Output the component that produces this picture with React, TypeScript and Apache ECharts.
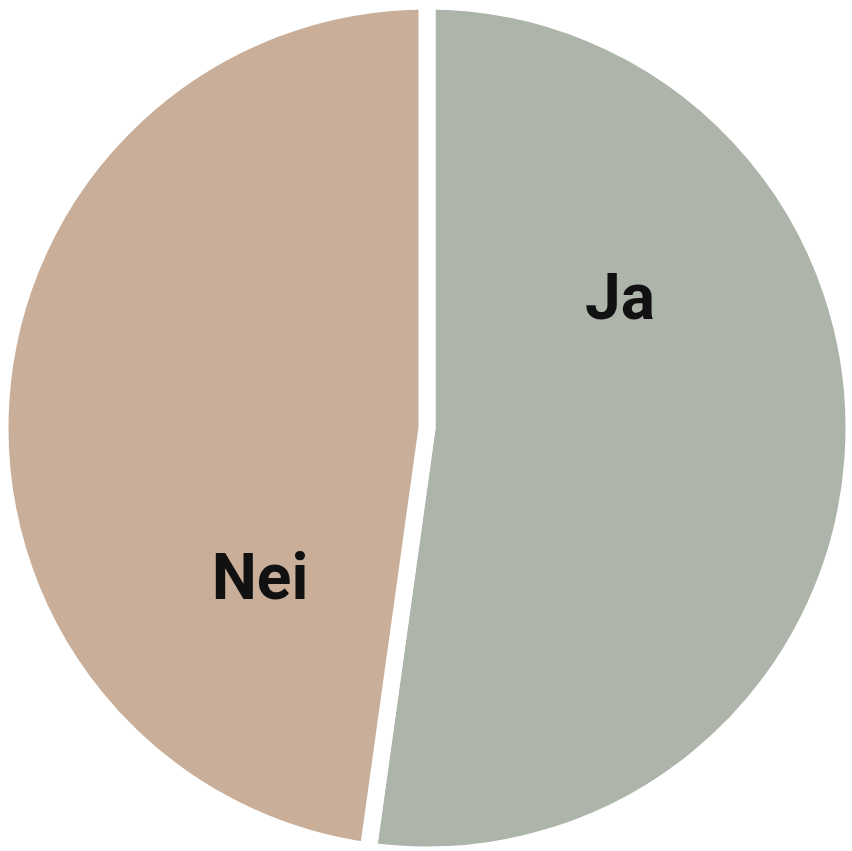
import React, { useEffect, useRef } from "react";
import * as echarts from "echarts";

const categories = ["Ja", "Nei"];
const values = [52.2, 47.8];
const colors = ["#adb5aa", "#c9af99"];

export default function App() {
  const ref = useRef<HTMLDivElement>(null);
  useEffect(() => {
    document.body.style.margin = "0";
    if (!ref.current) return;
    const chart = echarts.init(ref.current, null, { renderer: "svg" });
    const labelStyle = {
      fontFamily: "Roboto",
      fontWeight: "bold",
      fontSize: 64,
      fill: "#111111",
      align: "center",
      verticalAlign: "middle",
    };
    chart.setOption({
      animation: false,
      backgroundColor: "#ffffff",
      series: [
        {
          type: "pie",
          center: [427, 428],
          radius: [0, 427],
          startAngle: 90,
          clockwise: true,
          label: { show: false },
          labelLine: { show: false },
          emphasis: { disabled: true },
          itemStyle: { borderColor: "#ffffff", borderWidth: 17 },
          data: categories.map((name, i) => ({
            name,
            value: values[i],
            itemStyle: { color: colors[i] },
          })),
        },
      ],
      graphic: [
        {
          type: "text",
          z: 100,
          x: 620,
          y: 297,
          style: { ...labelStyle, text: categories[0] },
        },
        {
          type: "text",
          z: 100,
          x: 260,
          y: 577,
          style: { ...labelStyle, text: categories[1] },
        },
      ],
    });
    return () => chart.dispose();
  }, []);
  return <div ref={ref} style={{ width: 852, height: 851 }} />;
}
